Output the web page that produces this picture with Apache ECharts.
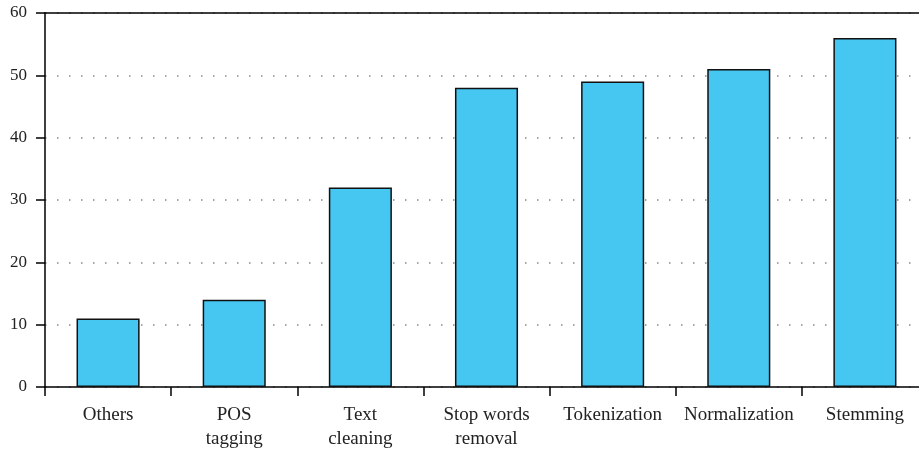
<!DOCTYPE html>
<html>
<head>
<meta charset="utf-8">
<script src="https://cdn.jsdelivr.net/npm/echarts@6/dist/echarts.min.js"></script>
<style>html,body{margin:0;padding:0;background:#fff}#c{width:919px;height:449px}</style>
</head>
<body>
<div id="c"></div>
<script>
const categories = ['Others', 'POS\ntagging', 'Text\ncleaning', 'Stop words\nremoval', 'Tokenization', 'Normalization', 'Stemming'];
const values = [11, 14, 32, 48, 49, 51, 56];
const yTicks = [0, 10, 20, 30, 40, 50, 60];

const chart = echarts.init(document.getElementById('c'));
const font = 'Liberation Serif';
chart.setOption({
  animation: false,
  grid: { left: 45, top: 13, width: 883, height: 374, outerBoundsMode: 'none', containLabel: false },
  xAxis: [{
    type: 'category',
    data: categories,
    axisLine: { lineStyle: { color: '#000', width: 1.5 } },
    axisTick: { show: true, length: 9, lineStyle: { color: '#000', width: 1.5 } },
    axisLabel: { fontFamily: font, fontSize: 19, color: '#222', margin: 16, lineHeight: 24, interval: 0 },
    splitLine: { show: false }
  }, {
    type: 'category',
    position: 'top',
    data: categories,
    axisLine: { show: true, lineStyle: { color: '#000', width: 1.5 } },
    axisTick: { show: false },
    axisLabel: { show: false }
  }],
  yAxis: {
    type: 'value',
    min: yTicks[0],
    max: yTicks[yTicks.length - 1],
    interval: 10,
    axisLine: { show: true, lineStyle: { color: '#000', width: 1.5 } },
    axisTick: { show: true, length: 9, lineStyle: { color: '#000', width: 1.5 } },
    axisLabel: { fontFamily: font, fontSize: 17, color: '#222', margin: 18 },
    splitLine: { show: true, lineStyle: { color: '#888', width: 1.5, type: [1.5, 10.5] } }
  },
  series: [{
    type: 'bar',
    data: values,
    barWidth: '50%',
    itemStyle: { color: '#45c7f2', borderColor: '#111', borderWidth: 1.5 }
  }]
});
</script>
</body>
</html>
